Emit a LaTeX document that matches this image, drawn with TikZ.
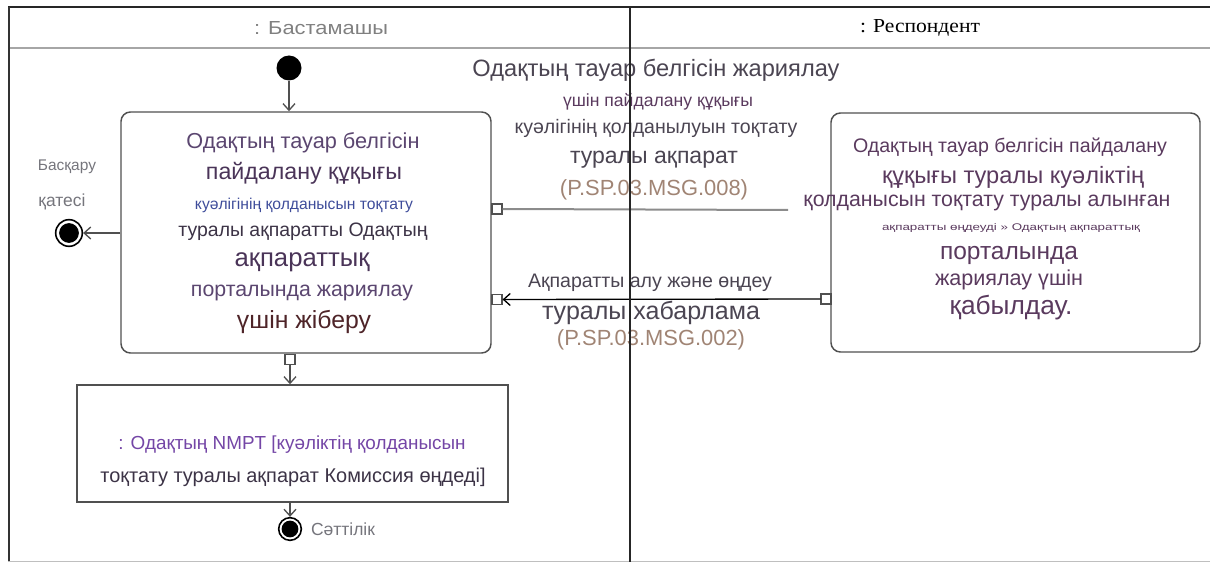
\documentclass[tikz,border=0pt]{standalone}
\usepackage{fontspec}
\setmainfont{Liberation Sans}
\newfontfamily\serifcyr{Liberation Serif}
\usetikzlibrary{arrows.meta}
\newlength\px \setlength\px{0.75pt}
\newcommand\fitw[2]{\resizebox{#1\px}{!}{#2}}
\newcommand\fitwh[3]{\resizebox{#1\px}{#2\px}{#3}}
\definecolor{tA}{HTML}{5B4670}
\definecolor{tB}{HTML}{4A3458}
\definecolor{tBlue}{HTML}{3E4C9A}
\definecolor{tDark}{HTML}{3C3346}
\definecolor{tMaroon}{HTML}{4E2428}
\definecolor{tGrey}{HTML}{4B4552}
\definecolor{tTan}{HTML}{A08474}
\definecolor{tPurple}{HTML}{7446A6}
\definecolor{tLbl}{HTML}{75757C}
\definecolor{tRB}{HTML}{5A3A5E}
\definecolor{lineG}{HTML}{505050}
\begin{document}
\begin{tikzpicture}[x=0.75pt,y=-0.75pt,
  txt/.style={inner sep=0pt, outer sep=0pt, anchor=center},
  rbox/.style={draw=lineG, line width=1.1pt, rounded corners=7pt, inner sep=0pt},
  sbox/.style={draw=lineG, line width=1.1pt, inner sep=0pt},
  port/.style={draw=lineG, fill=white, line width=0.9pt, minimum size=7.5pt, inner sep=0pt},
  arr/.style={line width=1pt, draw=lineG, -{Straight Barb[length=5pt,width=9pt]}},
  startnode/.style={circle, fill=black, minimum size=18.75pt, inner sep=0pt},
  endnode/.style={circle, draw=black, line width=1.2pt, fill=white, minimum size=#1, inner sep=0pt,
     path picture={\fill[black] (path picture bounding box.center) circle[radius=0.37*#1];}}]
\useasboundingbox (0,0) rectangle (1210,563);
% frame and swimlanes
\draw[line width=1.5pt, black!85] (8,7.5) -- (1210,7.5);
\draw[line width=1.5pt, black!35] (8,48) -- (1210,48);
\draw[line width=1.5pt, black!80] (8.5,7) -- (8.5,561.5);
\draw[line width=1pt, black!25] (8,561.5) -- (1210,561.5);
\node[txt, text=black!50] (h1) at (321,28) {\fitwh{134}{13}{: Бастамашы}};
\node[txt, text=black] (h2) at (920,28) {\fitwh{120}{13}{\serifcyr : Респондент}};

% start
\node[startnode] (S) at (289,68) {};

% box A
\node[rbox, minimum width=277.5pt, minimum height=180.75pt] (A) at (306,232.5) {};
\node[txt, text=tA] (a1) at (303,143) {\fitw{233}{Одақтың тауар белгісін}};
\node[txt, text=tB] (a2) at (304,173) {\fitw{196}{пайдалану құқығы}};
\node[txt, text=tBlue] (a3) at (304,205) {\fitw{218}{куәлігінің қолданысын тоқтату}};
\node[txt, text=tDark] (a4) at (303,232) {\fitw{249}{туралы ақпаратты Одақтың}};
\node[txt, text=tB] (a5) at (302,262) {\fitw{135}{ақпараттық}};
\node[txt, text=tA] (a6) at (302,293) {\fitw{222}{порталында жариялау}};
\node[txt, text=tMaroon] (a7) at (304,322) {\fitw{134}{үшін жіберу}};

% ports of A
\node[port] (pA1) at (497,209) {};
\node[port] (pA2) at (497,299.5) {};
\node[port] (pAb) at (290,359.5) {};

% control error final
\node[endnode=20pt] (F1) at (69,233) {};
\node[txt, text=tLbl] (f1a) at (67,167) {\fitw{58}{Басқару}};
\node[txt, text=tLbl] (f1b) at (62,202) {\fitw{47}{қатесі}};

% box B
\node[rbox, minimum width=276.75pt, minimum height=179.25pt] (B) at (1015.5,232.5) {};
\node[port] (pB) at (826,299) {};
\node[txt, text=tRB] (b1) at (1010,147) {\fitw{314}{Одақтың тауар белгісін пайдалану}};
\node[txt, text=tRB] (b2) at (1013,177) {\fitw{262}{құқығы туралы куәліктің}};
\node[txt, text=tRB] (b3) at (987,203) {\fitw{367}{қолданысын тоқтату туралы алынған}};
\node[txt, text=tRB] (b4) at (1011,228) {\fitwh{258}{7}{ақпаратты өңдеуді >> Одақтың ақпараттық}};
\node[txt, text=tRB] (b5) at (1009,255) {\fitw{138}{порталында}};
\node[txt, text=tRB] (b6) at (1009,280) {\fitw{148}{жариялау үшін}};
\node[txt, text=tRB] (b7) at (1011,308) {\fitw{123}{қабылдау.}};

% message 1
\coordinate (m1end) at (788,210);
\draw[line width=1.5pt, black!45] (pA1.east) -- (m1end);
\node[txt, text=tGrey] (m1a) at (656,70) {\fitw{367}{Одақтың тауар белгісін жариялау}};
\node[txt, text=tRB] (m1b) at (658,102) {\fitw{190}{үшін пайдалану құқығы}};
\node[txt, text=tGrey] (m1c) at (656,128) {\fitw{283}{куәлігінің қолданылуын тоқтату}};
\node[txt, text=tGrey] (m1d) at (654,160) {\fitw{168}{туралы ақпарат}};
\node[txt, text=tTan] (m1e) at (654,190) {\fitw{188}{(P.SP.03.MSG.008)}};

% message 2
\draw[arr, draw=black] (pB.west) -- (pA2.east);
\node[txt, text=tGrey] (m2a) at (650,283) {\fitw{244}{Ақпаратты алу және өңдеу}};
\node[txt, text=tGrey] (m2b) at (651,313) {\fitw{218}{туралы хабарлама}};
\node[txt, text=tTan] (m2c) at (651,340) {\fitw{188}{(P.SP.03.MSG.002)}};

% box C
\node[sbox, minimum width=323.25pt, minimum height=87.75pt] (C) at (292.5,443.5) {};
\node[txt, text=tPurple] (c1) at (292,445) {\fitw{347}{: Одақтың NMPT [куәліктің қолданысын}};
\node[txt, text=tDark] (c2) at (293,477) {\fitw{385}{тоқтату туралы ақпарат Комиссия өңдеді]}};

% success final
\node[endnode=17pt] (F2) at (290,529) {};
\node[txt, text=tLbl] (f2a) at (343,529) {\fitw{64}{Сәттілік}};

% connectors
\draw[arr] (S.south) -- (S.south |- A.north);
\draw[arr] (A.west |- F1) -- (F1);
\draw[arr] (pAb.south) -- (pAb.south |- C.north);
\draw[arr] (C.south -| F2) -- (F2);

% lane divider
\draw[line width=1.5pt, black!85] (629.5,7) -- (629.5,561.5);
\end{tikzpicture}
\end{document}
